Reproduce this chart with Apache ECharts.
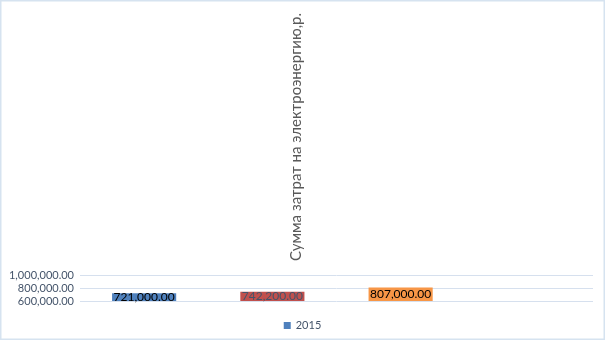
<!DOCTYPE html>
<html lang="ru">
<head>
<meta charset="UTF-8">
<title>Сумма затрат на электроэнергию</title>
<script src="https://cdn.jsdelivr.net/npm/echarts@6/dist/echarts.min.js"></script>
<style>
  body { margin: 0; background: #fff; }
  #main { width: 605px; height: 340px; }
</style>
</head>
<body>
<div id="main"></div>
<script>
  // data
  var categories = ['1', '2', '3', '4'];
  var values = [721000, 742200, 807000, null];
  var barColors = ['#4F81BD', '#C0504D', '#F79646', '#4F81BD'];
  var labelColors = ['#000000', '#44546A', '#000000', '#000000'];
  var legendName = '2015';
  var titleText = 'Сумма затрат на электроэнергию,р.';

  function money(v) {
    var s = Math.round(v).toString().replace(/\B(?=(\d{3})+(?!\d))/g, ',');
    return s + '.00';
  }

  var myChart = echarts.init(document.getElementById('main'));
  var option = {
    animation: false,
    textStyle: { fontFamily: 'Lato, "Open Sans", sans-serif' },
    legend: {
      data: [legendName],
      bottom: 4,
      left: 'center',
      itemWidth: 7,
      itemHeight: 7,
      icon: 'rect',
      itemGap: 5,
      textStyle: { color: '#44546A', fontSize: 11 }
    },
    grid: { left: 80, right: 12, top: 275, bottom: 39 },
    xAxis: {
      type: 'category',
      data: categories,
      axisLine: { show: false },
      axisTick: { show: false },
      axisLabel: { show: false }
    },
    yAxis: {
      type: 'value',
      min: 600000,
      max: 1000000,
      interval: 200000,
      axisLine: { show: false },
      axisTick: { show: false },
      axisLabel: { color: '#44546A', fontSize: 11, margin: 6, formatter: money },
      splitLine: { lineStyle: { color: '#D6E0EE', width: 1 } }
    },
    series: [{
      name: legendName,
      type: 'bar',
      barWidth: '50%',
      itemStyle: { color: '#4F81BD' },
      data: values.map(function (v, i) {
        return {
          value: v,
          itemStyle: { color: barColors[i] },
          label: { color: labelColors[i] }
        };
      }),
      label: {
        show: true,
        position: 'inside',
        fontSize: 12,
        textBorderWidth: 0,
        formatter: function (p) { return money(p.value); }
      }
    }],
    graphic: [
      {
        type: 'rect',
        shape: { x: 0.5, y: 0.5, width: 604, height: 339 },
        style: { fill: 'none', stroke: '#D6E3F0', lineWidth: 2 },
        silent: true
      },
      {
        type: 'text',
        x: 296,
        y: 137,
        rotation: Math.PI / 2,
        style: {
          text: titleText,
          fill: '#595959',
          fontSize: 15,
          fontFamily: 'Lato, "Open Sans", sans-serif',
          align: 'center',
          verticalAlign: 'middle'
        }
      }
    ]
  };
  myChart.setOption(option);
</script>
</body>
</html>
